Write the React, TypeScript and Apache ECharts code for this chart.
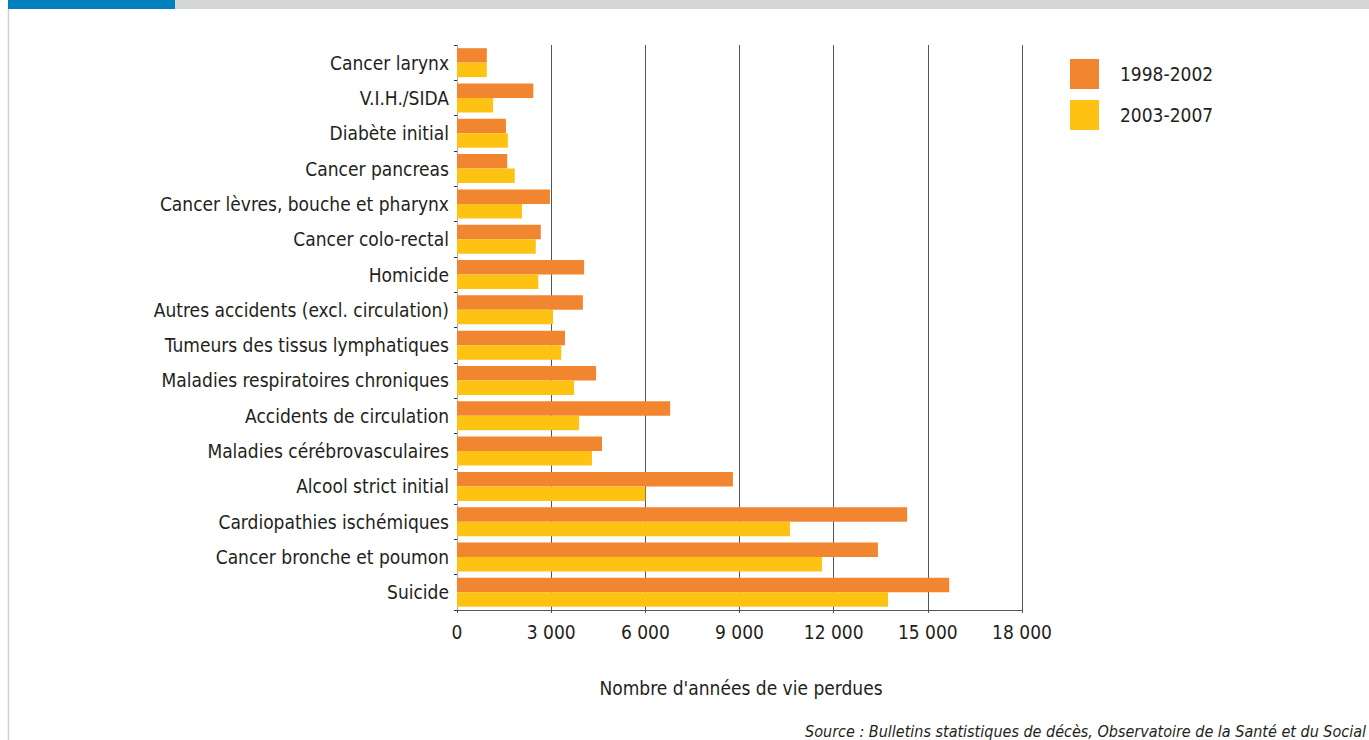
import React, { useEffect, useRef } from "react";
import * as echarts from "echarts";

// Causes of premature death, listed top to bottom
const categories: string[] = [
  "Cancer larynx",
  "V.I.H./SIDA",
  "Diabète initial",
  "Cancer pancreas",
  "Cancer lèvres, bouche et pharynx",
  "Cancer colo-rectal",
  "Homicide",
  "Autres accidents (excl. circulation)",
  "Tumeurs des tissus lymphatiques",
  "Maladies respiratoires chroniques",
  "Accidents de circulation",
  "Maladies cérébrovasculaires",
  "Alcool strict initial",
  "Cardiopathies ischémiques",
  "Cancer bronche et poumon",
  "Suicide",
];

// Years of life lost, period 1998-2002
const period1: number[] = [
  950, 2430, 1560, 1600, 2960, 2670, 4050, 4010, 3440, 4430, 6790, 4620, 8790,
  14340, 13410, 15680,
];

// Years of life lost, period 2003-2007
const period2: number[] = [
  950, 1150, 1620, 1840, 2070, 2510, 2590, 3060, 3320, 3730, 3890, 4300, 6000,
  10610, 11630, 13730,
];

const seriesNames: string[] = ["1998-2002", "2003-2007"];
const xTicks = { min: 0, max: 18000, interval: 3000 };

const axisTitle = "Nombre d'années de vie perdues";
const sourceText =
  "Source : Bulletins statistiques de décès, Observatoire de la Santé et du Social";

const FONT = "'DejaVu Sans Condensed', 'DejaVu Sans', sans-serif";
const TEXT = "#231f20";

const fmt = (v: number) =>
  String(v).replace(/\B(?=(\d{3})+(?!\d))/g, " ");

export default function App() {
  const ref = useRef<HTMLDivElement>(null);

  useEffect(() => {
    document.body.style.margin = "0";
    if (!ref.current) return;
    const chart = echarts.init(ref.current, null, { renderer: "svg" });
    chart.setOption({
      animation: false,
      backgroundColor: "#ffffff",
      textStyle: { fontFamily: FONT },
      grid: { left: 457, top: 45, width: 565, height: 565, containLabel: false },
      legend: {
        orient: "vertical",
        left: 1070,
        top: 59,
        padding: 0,
        itemWidth: 29,
        itemHeight: 30,
        itemGap: 11,
        icon: "rect",
        data: seriesNames,
        textStyle: { fontSize: 19, color: TEXT, fontFamily: FONT, padding: [0, 0, 0, 16] },
      },
      xAxis: {
        type: "value",
        min: xTicks.min,
        max: xTicks.max,
        interval: xTicks.interval,
        axisLine: { show: true, lineStyle: { color: "#555", width: 1 } },
        axisTick: { show: true, length: 3, lineStyle: { color: "#555" } },
        splitLine: { show: true, lineStyle: { color: "#555", width: 1 } },
        axisLabel: {
          fontSize: 19,
          color: TEXT,
          margin: 12,
          fontFamily: FONT,
          formatter: (v: number) => fmt(v),
        },
      },
      yAxis: {
        type: "category",
        inverse: true,
        data: categories,
        axisLine: { show: true, lineStyle: { color: "#aaa", width: 1 } },
        axisTick: { show: true, length: 3, lineStyle: { color: "#333" } },
        axisLabel: { fontSize: 19, color: TEXT, margin: 8, fontFamily: FONT },
      },
      series: [
        {
          name: seriesNames[0],
          type: "bar",
          data: period1,
          barGap: "0%",
          barCategoryGap: "18%",
          itemStyle: { color: "#f18530" },
        },
        {
          name: seriesNames[1],
          type: "bar",
          data: period2,
          barGap: "0%",
          barCategoryGap: "18%",
          itemStyle: { color: "#fec312" },
        },
      ],
      graphic: [
        { type: "rect", shape: { x: 8, y: 0, width: 167, height: 9 }, style: { fill: "#0080bc" } },
        { type: "rect", shape: { x: 175, y: 0, width: 1194, height: 9 }, style: { fill: "#d5d6d8" } },
        {
          type: "line",
          shape: { x1: 8.5, y1: 9, x2: 8.5, y2: 740 },
          style: { stroke: "#d0d0d0", lineWidth: 1.5 },
        },
        {
          type: "text",
          x: 741,
          y: 688,
          style: {
            text: axisTitle,
            fontSize: 19,
            fill: TEXT,
            fontFamily: FONT,
            textAlign: "center",
            textVerticalAlign: "middle",
          },
        },
        {
          type: "text",
          x: 1366,
          y: 731,
          style: {
            text: sourceText,
            fontSize: 16,
            fontStyle: "italic",
            fill: TEXT,
            fontFamily: FONT,
            textAlign: "right",
            textVerticalAlign: "middle",
          },
        },
      ],
    });
    return () => chart.dispose();
  }, []);

  return <div ref={ref} style={{ width: 1369, height: 740 }} />;
}
